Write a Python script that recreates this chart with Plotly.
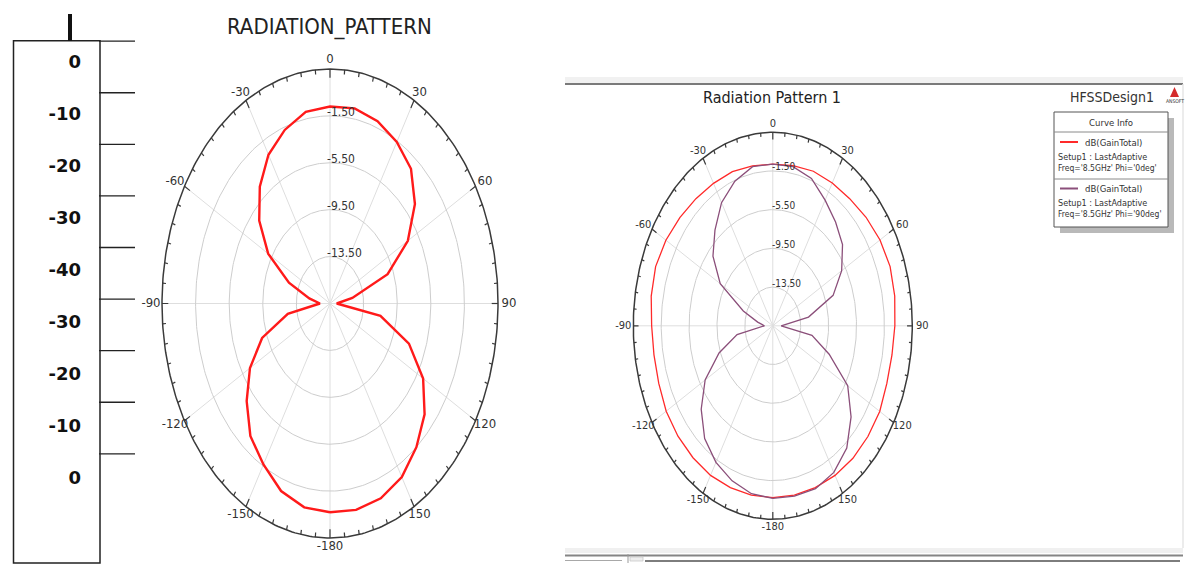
import numpy as np
import plotly.graph_objects as go

W, H = 1203, 578

# ---------------- data ----------------
ANGLES = list(range(-180, 181, 10))
LEFT_DB = [0.3, 0.15, -0.48, -1.65, -2.75, -4.55, -6.5, -8.9, -12.4, -16.3,
           -15.0, -12.3, -9.0, -6.5, -4.5, -2.85, -1.75, -0.9,
           -0.7,
           -0.6, -0.95, -1.6, -2.5, -4.3, -6.8, -10.2, -14.8, -16.7,
           -11.4, -7.5, -4.7, -2.8, -1.5, -0.4, 0.18, 0.37, 0.3]
RIGHT_PHI0_DB = [0.27, 0.27, 0.3, 0.35, 0.3, 0.25, 0.15, -0.1, -0.2, -0.13,
                 0.2, 0.38, 0.2, -0.1, -0.35, -0.5, -0.55, -0.72,
                 -0.78,
                 -0.7, -0.5, -0.45, -0.35, -0.05, 0.25, 0.4, 0.25, 0.0,
                 -0.15, -0.1, 0.2, 0.3, 0.37, 0.35, 0.3, 0.27, 0.27]
RIGHT_PHI90_DB = [0.34, 0.12, -0.45, -1.2, -2.3, -4.1, -6.3, -9.3, -12.3, -16.3,
                  -15.3, -13.0, -8.8, -6.3, -4.6, -2.8, -1.6, -0.8,
                  -0.78,
                  -0.8, -1.3, -2.5, -3.5, -4.45, -6.1, -8.3, -12.3, -16.3,
                  -11.8, -8.9, -5.1, -2.85, -1.0, 0.0, 0.42, 0.38, 0.34]

R_MIN, R_MAX = -17.5, 2.5
RADIAL_TICKS = [-13.5, -9.5, -5.5, -1.5]
RADIAL_LABELS = ["-13.50", "-9.50", "-5.50", "-1.50"]
ANGLE_TICKS = [0, 30, 60, 90, 120, 150, 180, 210, 240, 270, 300, 330]
ANGLE_LABELS = ["0", "30", "60", "90", "120", "150", "-180", "-150", "-120", "-90", "-60", "-30"]

SCALE_LABELS = ["0", "-10", "-20", "-30", "-40", "-30", "-20", "-10", "0"]

LEGEND_ENTRIES = [
    ("dB(GainTotal)", "Setup1 : LastAdaptive", "Freq='8.5GHz' Phi='0deg'", "#ff2a2a"),
    ("dB(GainTotal)", "Setup1 : LastAdaptive", "Freq='8.5GHz' Phi='90deg'", "#8b4f7a"),
]

NARROW = "Liberation Sans Narrow, Arial Narrow, DejaVu Sans Condensed, sans-serif"

# ---------------- helpers ----------------
def pol(db, ang):
    r = np.asarray(db, dtype=float) - R_MIN
    t = np.radians(np.asarray(ang, dtype=float))
    return r * np.sin(t), r * np.cos(t)


def px(x):
    return x / W


def py(y):
    return 1 - y / H


fig = go.Figure()
shapes = []
annotations = []

# ellipse geometry: centre (cx, cy) and half axes (hx, hy) in pixels
CHARTS = [
    dict(cx=330, cy=303.5, hx=168, hy=234.5, xa="x", ya="y", lab=13, rlab=12, oxp=11, oyp=9, rsh=-5),
    dict(cx=772.8, cy=325.8, hx=139.5, hy=193.5, xa="x2", ya="y2", lab=11, rlab=10, oxp=10, oyp=8, rsh=-3),
]

SPAN = R_MAX - R_MIN
PAD = 1.15


def add_polar_frame(c):
    kx = c["hx"] / SPAN
    ky = c["hy"] / SPAN
    xa, ya = c["xa"], c["ya"]
    xs, ys = [], []
    for a in ANGLE_TICKS:
        ex, ey = pol([R_MIN, R_MAX], [a, a])
        xs += list(ex) + [None]
        ys += list(ey) + [None]
    fig.add_trace(go.Scatter(x=xs, y=ys, mode="lines", xaxis=xa, yaxis=ya,
                             line=dict(color="#dedede", width=1), hoverinfo="skip"))
    th = np.arange(0, 361, 1)
    xs, ys = [], []
    for v in RADIAL_TICKS:
        ex, ey = pol(np.full(th.shape, v), th)
        xs += list(ex) + [None]
        ys += list(ey) + [None]
    fig.add_trace(go.Scatter(x=xs, y=ys, mode="lines", xaxis=xa, yaxis=ya,
                             line=dict(color="#cdcdcd", width=1), hoverinfo="skip"))
    return kx, ky


def add_polar_outer(c, kx, ky):
    xa, ya = c["xa"], c["ya"]
    th = np.arange(0, 361, 1)
    ex, ey = pol(np.full(th.shape, R_MAX), th)
    fig.add_trace(go.Scatter(x=ex, y=ey, mode="lines", xaxis=xa, yaxis=ya,
                             line=dict(color="#3a3a3a", width=1.5), hoverinfo="skip"))
    xs, ys = [], []
    for a in range(0, 360, 5):
        L = 0.75 if a % 30 == 0 else 0.4
        ex, ey = pol([R_MAX - L, R_MAX], [a, a])
        xs += list(ex) + [None]
        ys += list(ey) + [None]
    fig.add_trace(go.Scatter(x=xs, y=ys, mode="lines", xaxis=xa, yaxis=ya,
                             line=dict(color="#3a3a3a", width=1.2), hoverinfo="skip"))
    ox = c["oxp"] / kx
    oy = c["oyp"] / ky
    t = np.radians(ANGLE_TICKS)
    lx = (SPAN + ox) * np.sin(t)
    ly = (SPAN + oy) * np.cos(t)
    fig.add_trace(go.Scatter(x=lx, y=ly, mode="text", text=ANGLE_LABELS, xaxis=xa, yaxis=ya,
                             textposition="middle center", cliponaxis=False,
                             textfont=dict(family=NARROW, size=c["lab"], color="#333333"),
                             hoverinfo="skip"))
    for v, s in zip(RADIAL_TICKS, RADIAL_LABELS):
        annotations.append(dict(x=0, y=v - R_MIN, xref=xa, yref=ya, text=s, showarrow=False,
                                xanchor="left", yanchor="middle", xshift=c["rsh"], yshift=4,
                                font=dict(family=NARROW, size=c["rlab"], color="#333333")))


# ---------- left chart ----------
cL = CHARTS[0]
kx, ky = add_polar_frame(cL)
ex, ey = pol(LEFT_DB, ANGLES)
fig.add_trace(go.Scatter(x=ex, y=ey, mode="lines", xaxis="x", yaxis="y",
                         line=dict(color="#ff1a1a", width=2.4), hoverinfo="skip"))
add_polar_outer(cL, kx, ky)

# ---------- right chart ----------
cR = CHARTS[1]
kx2, ky2 = add_polar_frame(cR)
ex, ey = pol(RIGHT_PHI0_DB, ANGLES)
fig.add_trace(go.Scatter(x=ex, y=ey, mode="lines", xaxis="x2", yaxis="y2",
                         line=dict(color=LEGEND_ENTRIES[0][3], width=1.3), hoverinfo="skip"))
ex, ey = pol(RIGHT_PHI90_DB, ANGLES)
fig.add_trace(go.Scatter(x=ex, y=ey, mode="lines", xaxis="x2", yaxis="y2",
                         line=dict(color=LEGEND_ENTRIES[1][3], width=1.3), hoverinfo="skip"))
add_polar_outer(cR, kx2, ky2)

# ---------- scale bar (left) ----------
SP = 52.0
Y0 = 63.0
idx = list(range(len(SCALE_LABELS)))
fig.add_trace(go.Scatter(x=[81] * len(idx), y=idx, mode="text", text=SCALE_LABELS,
                         xaxis="x3", yaxis="y3", textposition="middle left", cliponaxis=False,
                         textfont=dict(family="DejaVu Sans", size=18, color="#111111",
                                       weight="bold"),
                         hoverinfo="skip"))
shapes.append(dict(type="rect", xref="x3", yref="y3", x0=13.5, x1=100,
                   y0=(40.7 - Y0) / SP, y1=(563 - Y0) / SP,
                   line=dict(color="#222222", width=1.5), fillcolor="rgba(0,0,0,0)"))
shapes.append(dict(type="line", xref="x3", yref="y3", x0=70, x1=70,
                   y0=(40.7 - Y0) / SP, y1=(14 - Y0) / SP,
                   line=dict(color="#111111", width=4)))
for i in idx:
    yv = i - 0.42 - 0.008 * i
    shapes.append(dict(type="line", xref="x3", yref="y3", x0=99, x1=135, y0=yv, y1=yv,
                       line=dict(color="#222222", width=1.3)))

# ---------- HFSS window frame (right) ----------
shapes += [
    dict(type="rect", xref="paper", yref="paper", x0=px(565), x1=px(1183), y0=py(77), y1=py(83),
         fillcolor="#f1f1f1", line=dict(width=0)),
    dict(type="line", xref="paper", yref="paper", x0=px(565), x1=px(1183), y0=py(84), y1=py(84),
         line=dict(color="#7a7a7a", width=2)),
    dict(type="line", xref="paper", yref="paper", x0=px(1183), x1=px(1183), y0=py(84), y1=py(548),
         line=dict(color="#e6e6e6", width=1.5)),
    dict(type="rect", xref="paper", yref="paper", x0=px(565), x1=px(1183), y0=py(548), y1=py(553),
         fillcolor="#f0f0f0", line=dict(width=0)),
    dict(type="line", xref="paper", yref="paper", x0=px(565), x1=px(1183), y0=py(555.5), y1=py(555.5),
         line=dict(color="#858585", width=2)),
    dict(type="line", xref="paper", yref="paper", x0=px(565), x1=px(622), y0=py(560.5), y1=py(560.5),
         line=dict(color="#a8a8a8", width=1.2)),
    dict(type="line", xref="paper", yref="paper", x0=px(628), x1=px(628), y0=py(554), y1=py(563),
         line=dict(color="#9a9a9a", width=1)),
    dict(type="rect", xref="paper", yref="paper", x0=px(630), x1=px(643), y0=py(557), y1=py(561),
         fillcolor="#eeeeee", line=dict(color="#c8c8c8", width=0.8)),
    dict(type="line", xref="paper", yref="paper", x0=px(645), x1=px(1180), y0=py(561), y1=py(561),
         line=dict(color="#7d7d7d", width=2)),
]

shapes += [
    dict(type="rect", xref="paper", yref="paper", x0=px(1060), x1=px(1174), y0=py(118), y1=py(233),
         fillcolor="#b9b9b9", line=dict(width=0)),
    dict(type="rect", xref="paper", yref="paper", x0=px(1054), x1=px(1168), y0=py(112), y1=py(227),
         fillcolor="white", line=dict(color="#555555", width=1)),
    dict(type="line", xref="paper", yref="paper", x0=px(1054), x1=px(1168), y0=py(132), y1=py(132),
         line=dict(color="#8a8a8a", width=1)),
    dict(type="line", xref="paper", yref="paper", x0=px(1054), x1=px(1168), y0=py(179), y1=py(179),
         line=dict(color="#8a8a8a", width=1)),
]
annotations.append(dict(x=px(1111), y=py(122), xref="paper", yref="paper", text="Curve Info",
                        showarrow=False, xanchor="center", yanchor="middle",
                        font=dict(family=NARROW, size=9.5, color="#333333")))
for k, (l1, l2, l3, col) in enumerate(LEGEND_ENTRIES):
    base = 142 + 46.5 * k
    shapes.append(dict(type="line", xref="paper", yref="paper", x0=px(1060), x1=px(1078),
                       y0=py(base), y1=py(base), line=dict(color=col, width=2)))
    annotations.append(dict(x=px(1083), y=py(base), xref="paper", yref="paper", text=l1,
                            showarrow=False, xanchor="left", yanchor="middle",
                            font=dict(family=NARROW, size=9.5, color="#333333")))
    annotations.append(dict(x=px(1056), y=py(base + 14.5), xref="paper", yref="paper", text=l2,
                            showarrow=False, xanchor="left", yanchor="middle",
                            font=dict(family=NARROW, size=9, color="#333333")))
    annotations.append(dict(x=px(1056), y=py(base + 25.5), xref="paper", yref="paper", text=l3,
                            showarrow=False, xanchor="left", yanchor="middle",
                            font=dict(family=NARROW, size=8.5, color="#333333")))

annotations.append(dict(x=px(1156), y=py(97), xref="paper", yref="paper", text="HFSSDesign1",
                        showarrow=False, xanchor="right", yanchor="middle",
                        font=dict(family=NARROW, size=14, color="#333333")))
shapes.append(dict(type="path", xref="paper", yref="paper",
                   path=f"M {px(1170)} {py(97)} L {px(1174.5)} {py(87)} L {px(1179)} {py(97)} Z",
                   fillcolor="#d42b2b", line=dict(width=0)))
annotations.append(dict(x=px(1174.5), y=py(101.5), xref="paper", yref="paper", text="ANSOFT",
                        showarrow=False, xanchor="center", yanchor="middle",
                        font=dict(family=NARROW, size=5, color="#333333")))

annotations.append(dict(x=px(329), y=py(27), xref="paper", yref="paper", text="RADIATION_PATTERN",
                        showarrow=False, xanchor="center", yanchor="middle",
                        font=dict(family=NARROW, size=22, color="#222222")))
annotations.append(dict(x=px(772), y=py(98), xref="paper", yref="paper", text="Radiation Pattern 1",
                        showarrow=False, xanchor="center", yanchor="middle",
                        font=dict(family=NARROW, size=16, color="#222222")))


def dom_x(c):
    return [px(c["cx"] - c["hx"] * PAD), px(c["cx"] + c["hx"] * PAD)]


def dom_y(c):
    return [py(c["cy"] + c["hy"] * PAD), py(c["cy"] - c["hy"] * PAD)]


axis_off = dict(visible=False, showgrid=False, zeroline=False, fixedrange=True)
rng = [-SPAN * PAD, SPAN * PAD]
fig.update_layout(
    width=W, height=H, margin=dict(l=0, r=0, t=0, b=0),
    paper_bgcolor="white", plot_bgcolor="rgba(0,0,0,0)", showlegend=False,
    xaxis=dict(axis_off, domain=dom_x(cL), range=rng),
    yaxis=dict(axis_off, domain=dom_y(cL), range=rng),
    xaxis2=dict(axis_off, domain=dom_x(cR), range=rng),
    yaxis2=dict(axis_off, domain=dom_y(cR), range=rng),
    xaxis3=dict(axis_off, domain=[0, 1], range=[0, W]),
    yaxis3=dict(axis_off, domain=[0, 1], range=[(H - Y0) / SP, (0 - Y0) / SP]),
    shapes=shapes, annotations=annotations,
)

fig.write_html("out.html", config={"displayModeBar": False},
               post_script="document.body.style.margin='0px';document.body.style.overflow='hidden';")
